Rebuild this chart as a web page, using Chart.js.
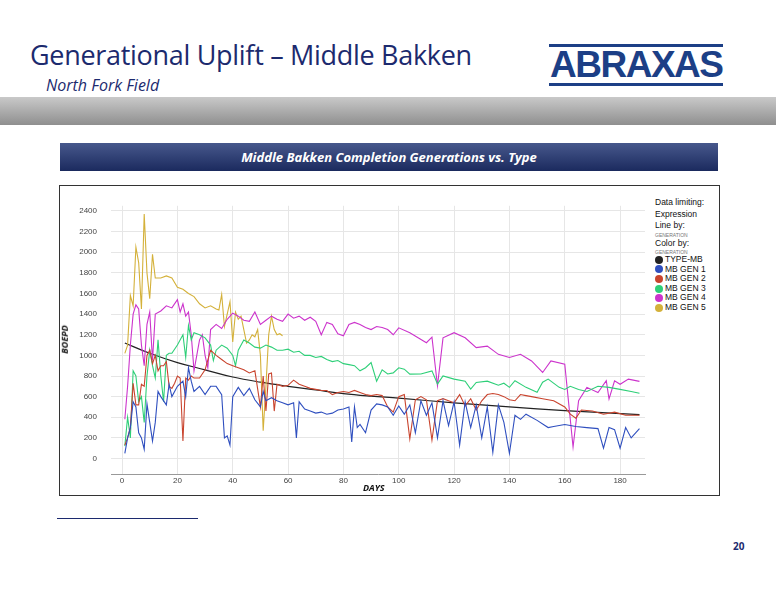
<!DOCTYPE html>
<html><head><meta charset="utf-8">
<script src="https://cdn.jsdelivr.net/npm/chart.js@4"></script>
<style>
body{margin:0;width:776px;height:600px;position:relative;background:#fff;font-family:"Open Sans",sans-serif;overflow:hidden}
.abs{position:absolute}
#title{left:30px;top:36px;font-size:27px;color:#1c2a6e;white-space:nowrap;letter-spacing:-0.3px}
#sub{left:46px;top:74px;font-size:16px;font-style:italic;color:#1c2a6e}
#logo{left:549px;top:44px;font-family:"Liberation Sans",sans-serif;font-weight:bold;font-size:37px;color:#1c3f86;letter-spacing:-1.5px;border-top:3px solid #1c3f86;border-bottom:3px solid #1c3f86;line-height:36px;padding:0 1px}
#band{left:0;top:97px;width:776px;height:28px;background:linear-gradient(#c9c9c9,#8f8f8f)}
#hdr{left:60px;top:143px;width:658px;height:28px;background:linear-gradient(#47588c,#1b2a5e);color:#fff;font-weight:bold;font-style:italic;font-size:13px;text-align:center;line-height:28px}
#box{left:59px;top:185px;width:659px;height:309px;border:1px solid #333}
#cv{left:62px;top:187px}
#boe{left:50px;top:333px;transform:rotate(-90deg);font-size:9px;font-weight:bold;font-style:italic;color:#111}
#days{left:363px;top:481px;font-size:9px;font-weight:bold;font-style:italic;color:#111}
#leg{left:655px;top:197px;font-family:"Liberation Sans",sans-serif;font-size:8.5px;color:#111;line-height:11.5px}
#leg .s{font-size:5px;color:#777;line-height:6px}
#leg .i{display:flex;align-items:center;height:9.6px}
#leg .d{width:8px;height:8px;border-radius:50%;margin-right:2px}
#fn{left:57px;top:518px;width:141px;height:1px;background:#1c2a6e}
#pg{left:733px;top:539px;font-size:10px;font-weight:bold;color:#1c2a6e}
</style></head><body>
<div id="title" class="abs">Generational Uplift – Middle Bakken</div>
<div id="sub" class="abs">North Fork Field</div>
<div id="logo" class="abs">ABRAXAS</div>
<div id="band" class="abs"></div>
<div id="hdr" class="abs">Middle Bakken Completion Generations vs. Type</div>
<div id="box" class="abs"></div>
<canvas id="cv" class="abs" width="590" height="306" style="width:590px;height:306px"></canvas>
<div id="boe" class="abs">BOEPD</div>
<div id="days" class="abs">DAYS</div>
<div id="leg" class="abs">
<div>Data limiting:</div><div>Expression</div><div>Line by:</div><div class="s">GENERATION</div><div>Color by:</div><div class="s">GENERATION</div>
<div id="items"></div></div>
<div id="fn" class="abs"></div>
<div id="pg" class="abs">20</div>
<script>
const seriesNames=["TYPE-MB","MB GEN 1","MB GEN 2","MB GEN 3","MB GEN 4","MB GEN 5"];
const seriesColors=["#222222","#2f4fbf","#c9442e","#2ecf78","#cc33cc","#d4b13a"];
const typeDays=[1,10,20,30,40,50,60,70,80,90,100,120,140,160,187];
const typeVals=[1120,1020,930,860,790,740,700,665,630,605,585,540,500,465,425];
const gen1Days=[1,2,3,4,5,6,7,8,9,10,11,12,13,14,16,17,18,20,22,23,24,25,26,28,30,32,34,36,37,38,39,40,42,44,46,48,50,51,52,54,56,58,60,62,63,64,66,68,70,72,74,76,78,80,82,83,84,85,86,88,90,92,94,96,98,100,102,104,106,108,110,112,114,116,118,120,122,124,126,128,130,132,134,136,138,140,142,144,146,150,154,156,160,164,168,172,174,176,178,180,182,184,187];
const gen1Vals=[50,200,300,550,500,250,200,90,530,350,170,350,650,600,520,720,600,700,750,600,880,750,650,700,620,700,700,620,200,220,130,600,690,610,680,570,500,650,560,590,560,540,520,540,200,550,480,460,440,450,430,440,470,480,500,160,500,300,330,250,470,530,520,500,420,510,430,520,250,560,420,540,200,560,320,550,130,550,300,520,200,500,60,520,350,50,420,380,430,370,300,310,330,310,300,290,100,300,280,100,300,200,290];
const gen2Days=[1,2,3,4,5,6,7,8,9,10,11,12,13,14,15,16,17,18,19,20,21,22,23,24,25,26,28,30,32,34,36,38,40,42,44,46,48,50,51,52,53,54,55,56,58,60,62,64,66,68,70,72,74,76,78,80,82,84,86,88,90,92,94,96,98,100,102,104,106,108,110,112,114,116,118,120,122,124,126,128,130,132,134,136,138,140,142,144,146,148,152,156,160,162,164,166,170,174,178,182,187];
const gen2Vals=[130,200,300,730,520,520,720,700,1000,1050,920,1000,850,900,900,940,700,680,730,800,780,170,780,760,800,780,780,860,1050,1000,960,920,900,880,860,830,850,500,800,460,820,830,460,720,700,710,760,720,700,680,670,660,660,620,640,650,640,660,640,620,610,620,610,500,450,600,620,190,570,600,570,180,560,580,560,540,620,510,580,470,560,620,630,620,600,570,560,620,610,600,580,560,500,430,390,470,460,430,450,420,420];
const gen3Days=[1,2,3,4,5,6,7,8,9,10,11,12,13,14,15,16,17,18,20,22,23,24,25,26,28,30,32,33,34,36,38,40,41,42,44,46,48,50,52,54,56,58,60,62,64,66,68,70,72,74,76,78,80,82,84,86,88,90,92,94,96,98,100,102,104,108,112,114,116,120,124,126,128,132,136,138,140,142,146,150,152,154,158,160,162,165,168,172,176,180,184,187];
const gen3Vals=[120,400,200,850,800,550,600,350,800,1050,900,780,1150,800,550,1000,1020,1020,1100,1200,980,1290,1150,1220,1200,1170,1100,950,1050,1100,1070,1000,900,1050,1150,1120,1080,1070,1100,1080,1050,1050,1060,1030,1040,1000,1000,980,990,960,940,950,920,910,900,850,880,930,750,860,820,830,880,866,818,820,850,722,800,770,750,674,738,750,710,730,690,754,690,642,740,770,690,670,700,670,650,700,690,670,650,632];
const gen4Days=[1,2,3,4,5,6,7,8,9,10,11,12,14,16,18,20,21,22,23,24,25,26,27,28,29,30,31,32,34,36,38,40,42,44,46,48,50,52,54,56,58,60,62,64,66,68,70,72,74,76,78,80,82,84,86,88,90,92,94,96,98,100,104,110,112,114,116,120,124,128,132,136,140,144,148,152,155,160,163,165,168,172,175,176,178,180,183,187];
const gen4Vals=[380,700,1100,1400,1490,1450,1100,900,1300,1420,950,1400,1430,1480,1460,1540,1420,1500,1380,1420,1200,850,1000,1150,1200,1000,880,1250,1300,1260,1350,1410,1380,1340,1330,1420,1300,1340,1380,1350,1330,1400,1360,1380,1340,1370,1330,1200,1320,1300,1210,1190,1300,1320,1300,1270,1250,1280,1270,1250,1200,1267,1220,1123,1177,706,1170,1220,1170,1075,1090,1010,980,1010,946,834,946,914,112,560,690,640,754,577,754,720,770,748];
const gen5Days=[1,2,3,4,5,6,7,8,9,10,11,12,14,16,18,20,22,24,26,28,30,32,34,35,36,37,38,39,40,41,42,43,44,45,46,47,48,49,50,51,52,53,54,55,56,57,58];
const gen5Vals=[1020,1100,1580,1480,2050,1900,1450,2370,1800,1550,1980,1750,1750,1770,1750,1660,1640,1600,1570,1500,1460,1480,1450,1440,1590,1280,1400,1520,1130,1420,1350,1380,1250,1120,1150,1200,1180,1250,1000,270,700,1200,1380,1250,1200,1210,1190];
const xTicks=[0,20,40,60,80,100,120,140,160,180];
const yTicks=[0,200,400,600,800,1000,1200,1400,1600,1800,2000,2200,2400];

const pairs=[[typeDays,typeVals],[gen1Days,gen1Vals],[gen2Days,gen2Vals],[gen3Days,gen3Vals],[gen4Days,gen4Vals],[gen5Days,gen5Vals]];
const order=[1,2,3,4,5,0];
const datasets=order.map(i=>({label:seriesNames[i],data:pairs[i][0].map((d,k)=>({x:d,y:pairs[i][1][k]})),borderColor:seriesColors[i],borderWidth:i===0?1.2:1.1,pointRadius:0,tension:i===0?0.4:0,fill:false}));
const items=document.getElementById('items');
seriesNames.forEach((n,i)=>{items.innerHTML+=`<div class="i"><span class="d" style="background:${seriesColors[i]}"></span>${n}</div>`;});
const grid={color:'#e6e6e6',lineWidth:1,borderDash:[3,2]};
new Chart(document.getElementById('cv'),{type:'line',data:{datasets},
options:{responsive:false,animation:false,layout:{padding:{top:17,right:7,left:0,bottom:0}},
plugins:{legend:{display:false},tooltip:{enabled:false}},
scales:{
x:{type:'linear',min:-4,max:189,afterBuildTicks:s=>{s.ticks=xTicks.map(v=>({value:v}))},afterFit:s=>{s.height=19},
ticks:{font:{size:8,family:'Liberation Sans'},color:'#444',maxRotation:0,padding:2,callback:v=>String(v)},grid:{...grid,drawTicks:false},border:{display:true,color:'#999'}},
y:{min:-150,max:2450,afterBuildTicks:s=>{s.ticks=yTicks.map(v=>({value:v}))},afterFit:s=>{s.width=49},
ticks:{font:{size:8,family:'Liberation Sans'},color:'#444',padding:14,callback:v=>String(v)},grid:{...grid,drawTicks:false},border:{display:false}}}}});
</script></body></html>
